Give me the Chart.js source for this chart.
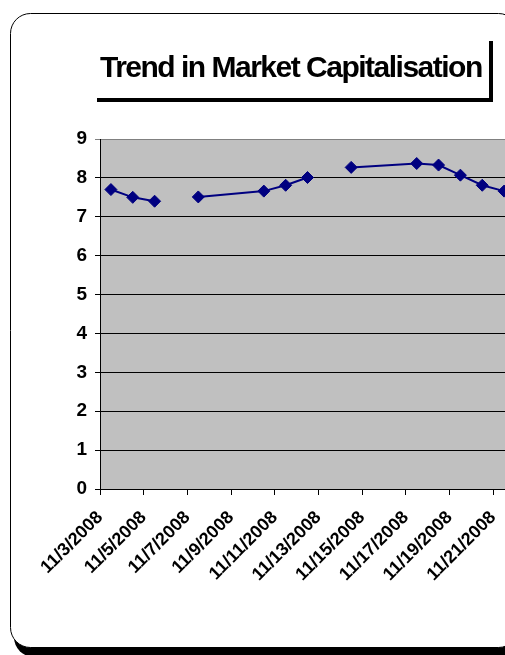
<!DOCTYPE html>
<html>
<head>
<meta charset="utf-8">
<script src="https://cdn.jsdelivr.net/npm/chart.js@4/dist/chart.umd.min.js"></script>
<style>
  html, body { margin: 0; padding: 0; background: #fff; overflow: hidden; width: 505px; height: 655px; }
  canvas { display: block; }
</style>
</head>
<body>
<canvas id="c" width="530" height="655" style="width:530px;height:655px"></canvas>
<script>
const chartTitle = 'Trend in Market Capitalisation';
const dates = ['11/3/2008','11/4/2008','11/5/2008','11/6/2008','11/7/2008','11/10/2008','11/11/2008','11/12/2008','11/13/2008','11/14/2008','11/17/2008','11/18/2008','11/19/2008','11/20/2008','11/21/2008'];
const values = [7.70, 7.50, 7.40, null, 7.51, 7.66, 7.81, 8.01, null, 8.27, 8.37, 8.33, 8.07, 7.81, 7.66];
const tickLabels = ['11/3/2008','11/5/2008','11/7/2008','11/9/2008','11/11/2008','11/13/2008','11/15/2008','11/17/2008','11/19/2008','11/21/2008'];
const yTicks = [0,1,2,3,4,5,6,7,8,9];

const firstDay = 3;
function dayIndex(s) { return parseInt(s.split('/')[1], 10) - firstDay; }
const points = dates.map((d, i) => ({ x: dayIndex(d) + 0.5, y: values[i] }));
const tickValues = tickLabels.map(dayIndex);

const frame = {
  id: 'frame',
  beforeDraw(chart) {
    const ctx = chart.ctx;
    ctx.save();
    ctx.fillStyle = '#000';
    ctx.beginPath();
    ctx.roundRect(14, 20, 508, 637, 20);
    ctx.fill();
    ctx.fillStyle = '#fff';
    ctx.beginPath();
    ctx.roundRect(10.5, 13.5, 508, 634, 20);
    ctx.fill();
    ctx.strokeStyle = '#000';
    ctx.lineWidth = 1;
    ctx.stroke();
    const a = chart.chartArea;
    ctx.fillStyle = '#C0C0C0';
    ctx.fillRect(a.left, a.top, a.right - a.left, a.bottom - a.top);
    ctx.restore();
  },
  afterDraw(chart) {
    const ctx = chart.ctx;
    ctx.save();
    ctx.fillStyle = '#000';
    ctx.fillRect(489, 41, 4, 61);
    ctx.fillRect(97, 98, 396, 4);
    ctx.font = 'bold 30px "Liberation Sans", Arial, sans-serif';
    try { ctx.letterSpacing = '-1.5px'; } catch (e) {}
    ctx.textAlign = 'left';
    ctx.textBaseline = 'alphabetic';
    ctx.fillText(chartTitle, 100, 77);
    ctx.restore();
  }
};

new Chart(document.getElementById('c'), {
  type: 'line',
  data: {
    datasets: [{
      data: points,
      borderColor: '#000080',
      backgroundColor: '#000080',
      borderWidth: 2,
      pointStyle: 'rectRot',
      pointRadius: 6,
      pointBorderWidth: 1,
      pointBackgroundColor: '#000080',
      pointBorderColor: '#000080',
      spanGaps: false,
      tension: 0
    }]
  },
  options: {
    responsive: false,
    animation: false,
    devicePixelRatio: 1,
    layout: { padding: { top: 139, left: 0, right: 15, bottom: 66 } },
    plugins: { legend: { display: false }, tooltip: { enabled: false }, title: { display: false } },
    scales: {
      x: {
        type: 'linear',
        min: 0,
        max: 19,
        afterBuildTicks(scale) { scale.ticks = tickValues.map(v => ({ value: v })); },
        afterFit(scale) { scale.height = 100; },
        border: { display: true, color: '#000', width: 1 },
        grid: { drawOnChartArea: false, drawTicks: true, tickLength: 6, color: '#000' },
        ticks: {
          autoSkip: false,
          minRotation: 45,
          maxRotation: 45,
          padding: 12,
          color: '#000',
          font: { family: '"Liberation Sans", Arial, sans-serif', size: 18, weight: 'bold' },
          callback(v) { const i = tickValues.indexOf(v); return i >= 0 ? tickLabels[i] : ''; }
        }
      },
      y: {
        min: 0,
        max: 9,
        afterBuildTicks(scale) { scale.ticks = yTicks.map(v => ({ value: v })); },
        afterFit(scale) { scale.width = 100; },
        border: { display: true, color: '#000', width: 1 },
        grid: {
          drawTicks: true,
          tickLength: 5,
          color(c) { return c.tick && c.tick.value === 9 ? '#808080' : '#000'; }
        },
        ticks: {
          padding: 8,
          color: '#000',
          font: { family: '"Liberation Sans", Arial, sans-serif', size: 19, weight: 'bold' }
        }
      }
    }
  },
  plugins: [frame]
});
</script>
</body>
</html>
